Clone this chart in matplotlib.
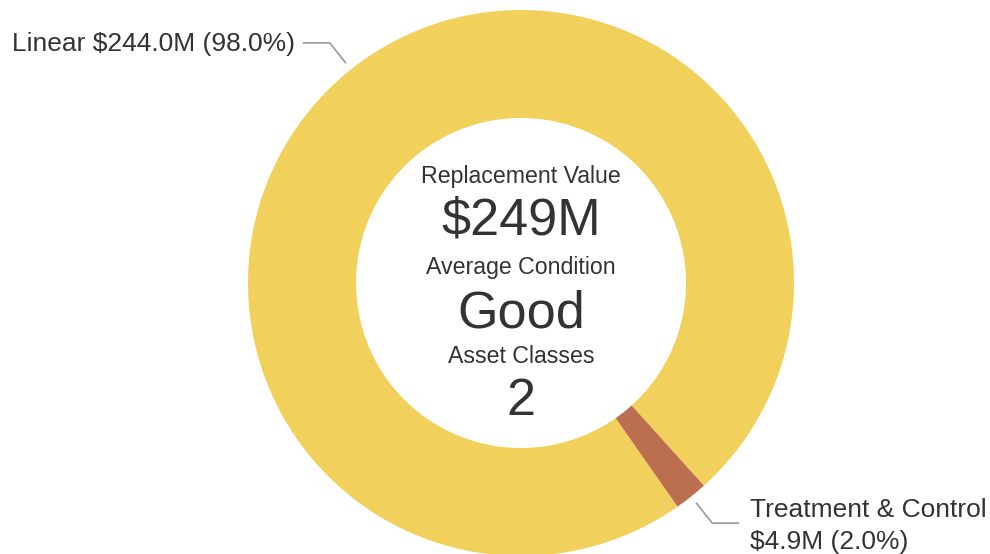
import numpy as np
import matplotlib.pyplot as plt

plt.rcParams['font.family'] = ['Liberation Sans', 'DejaVu Sans']

# asset classes and replacement values ($M)
classes = ["Linear", "Treatment & Control"]
values = [244.0, 4.9]
colors = ["#F2D05C", "#BC6F4F"]
avg_condition = "Good"

W, H = 990, 554
cx, cy = 521, H - 283
r_out, r_in = 273, 165
txt = "#333333"

fig = plt.figure(figsize=(W / 100, H / 100), dpi=100)
ax = fig.add_axes([0, 0, 1, 1])
wedges, _ = ax.pie(values, colors=colors, radius=r_out, center=(cx, cy),
                   startangle=305, counterclock=False,
                   wedgeprops=dict(width=r_out - r_in, linewidth=0))
ax.set_xlim(0, W)
ax.set_ylim(0, H)
ax.set_aspect('equal')
ax.axis('off')

total = sum(values)

# slice labels with elbow leader lines
for w, name, v in zip(wedges, classes, values):
    ang = np.deg2rad((w.theta1 + w.theta2) / 2)
    c, s = np.cos(ang), np.sin(ang)
    side = 1 if c > 0 else -1
    x0, y0 = cx + 281 * c, cy + 281 * s
    x1, y1 = cx + 307 * c, cy + 307 * s
    x2 = x1 + side * 27
    ax.plot([x0, x1, x2], [y0, y1, y1], color="#999999", lw=1.2,
            solid_capstyle='butt')
    lab = f"${v:.1f}M ({v / total * 100:.1f}%)"
    if side > 0:
        ax.text(x2 + 11, y1 - 3, name + "\n" + lab, ha='left', va='center',
                fontsize=19, color=txt, linespacing=1.4)
    else:
        ax.text(x2 - 8, y1 + 1, name + " " + lab, ha='right',
                va='center_baseline', fontsize=19, color=txt)

# centre summary
center_lines = [
    ("Replacement Value", 183, 16.7),
    (f"${total:.0f}M", 235, 37.5),
    ("Average Condition", 274, 16.7),
    (avg_condition, 327, 37.5),
    ("Asset Classes", 363, 16.7),
    (str(len(classes)), 415, 37.5),
]
for t, ypix, fs in center_lines:
    ax.text(cx, H - ypix, t, ha='center', va='baseline', fontsize=fs, color=txt)

fig.savefig("out.png", dpi=100)
